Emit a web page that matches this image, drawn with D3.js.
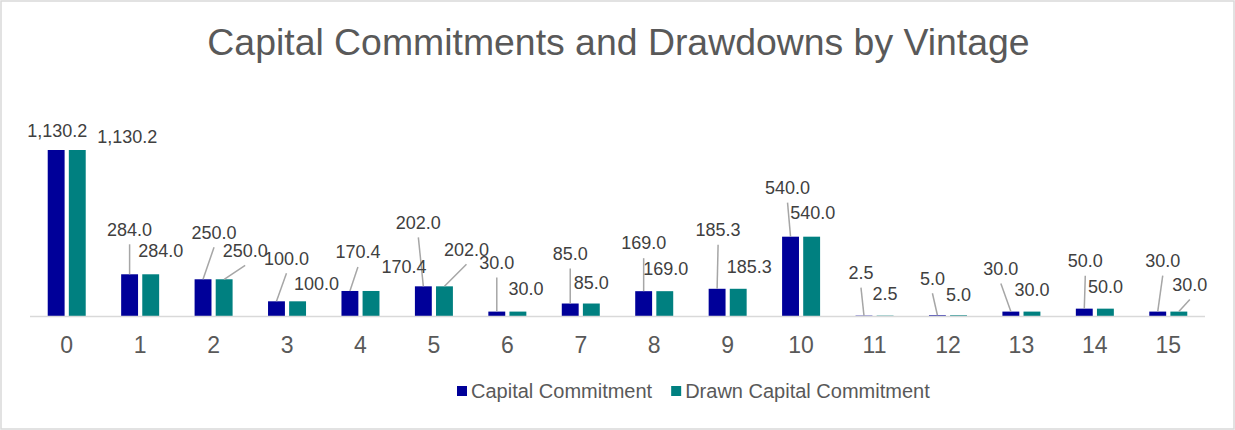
<!DOCTYPE html>
<html>
<head>
<meta charset="utf-8">
<script src="https://cdn.jsdelivr.net/npm/d3@7"></script>
<style>
  body { margin: 0; background: #fff; }
  svg text { font-family: "Liberation Sans", Arial, sans-serif; }
</style>
</head>
<body>
<div id="chart"></div>
<script>
// vintage categories and the two series
const vintages = ["0","1","2","3","4","5","6","7","8","9","10","11","12","13","14","15"];
const commitment = [1130.2, 284.0, 250.0, 100.0, 170.4, 202.0, 30.0, 85.0, 169.0, 185.3, 540.0, 2.5, 5.0, 30.0, 50.0, 30.0];
const drawn = [1130.2, 284.0, 250.0, 100.0, 170.4, 202.0, 30.0, 85.0, 169.0, 185.3, 540.0, 2.5, 5.0, 30.0, 50.0, 30.0];
const seriesNames = ["Capital Commitment", "Drawn Capital Commitment"];
const seriesColors = ["#000099", "#008080"];

// label placement (offset of label centre from bar top centre), as Excel left them
const commitLabelOffset = [[1,-19],[0,-45],[11,-47],[10,-43],[8,-39],[-5,-64],[0,-49],[0,-50],[0,-48],[1,-59],[-3,-49],[-3,-43],[-5,-37],[-10,-43],[1,-48],[5,-51]];
const drawnLabelOffset = [[50,-13],[10,-24],[21,-29],[19,-18],[33,-24],[22,-37],[8,-23],[0,-21],[1,-22],[11,-22],[1,-24],[0,-22],[0,-21],[0,-22],[0,-22],[11,-27]];

const W = 1235, H = 430;
const margin = {top: 150, right: 30, bottom: 114, left: 30};
const width = W - margin.left - margin.right,
      height = H - margin.top - margin.bottom;

const svg = d3.select("#chart").append("svg")
    .attr("width", W).attr("height", H);

// chart border
svg.append("rect")
    .attr("x", 1).attr("y", 1)
    .attr("width", W - 2).attr("height", H - 2)
    .attr("fill", "#fff").attr("stroke", "#d9d9d9").attr("stroke-width", 1.5);

svg.append("text")
    .attr("x", W / 2 + 1).attr("y", 55)
    .attr("text-anchor", "middle")
    .attr("font-size", 37.4)
    .attr("fill", "#595959")
    .text("Capital Commitments and Drawdowns by Vintage");

const g = svg.append("g")
    .attr("transform", "translate(" + margin.left + "," + margin.top + ")");

const x = d3.scaleBand().domain(vintages).range([0, width]);
const x1 = d3.scaleBand().domain([0, 1]).range([x.bandwidth() / 2 - 19, x.bandwidth() / 2 + 19]).paddingInner(0.2);
const y = d3.scaleLinear().domain([0, d3.max(commitment)]).range([height, 0]);

const series = [commitment, drawn];
const offsets = [commitLabelOffset, drawnLabelOffset];

series.forEach((vals, s) => {
    const rows = vals.map((v, i) => ({cat: vintages[i], v: v}));
    g.append("g").selectAll("rect").data(rows).enter().append("rect")
        .attr("x", d => x(d.cat) + x1(s))
        .attr("y", d => y(d.v))
        .attr("width", x1.bandwidth())
        .attr("height", d => height - y(d.v))
        .attr("fill", seriesColors[s]);
});

// axis line
g.append("line")
    .attr("x1", 0).attr("x2", width)
    .attr("y1", height + 0.5).attr("y2", height + 0.5)
    .attr("stroke", "#d9d9d9").attr("stroke-width", 1.5);

// tick labels
const xAxis = g.append("g")
    .attr("transform", "translate(0," + height + ")")
    .call(d3.axisBottom(x).tickSize(0).tickPadding(20.5));
xAxis.select(".domain").remove();
xAxis.selectAll("text")
    .attr("font-size", 23)
    .attr("fill", "#595959")
    .style("font-family", "'Liberation Sans', Arial, sans-serif");

// data labels with leader lines
series.forEach((vals, s) => {
    vals.forEach((v, i) => {
        const bx = x(vintages[i]) + x1(s) + x1.bandwidth() / 2,
              by = y(v);
        const lx = bx + offsets[s][i][0],
              ly = by + offsets[s][i][1];
        if (by - (ly + 8) > 18) {
            g.append("line")
                .attr("x1", lx).attr("y1", ly + 15)
                .attr("x2", bx).attr("y2", by)
                .attr("stroke", "#a6a6a6").attr("stroke-width", 1.5);
        }
        g.append("text")
            .attr("x", lx).attr("y", ly)
            .attr("dy", "0.35em")
            .attr("text-anchor", "middle")
            .attr("font-size", 18)
            .attr("fill", "#404040")
            .text(d3.format(",.1f")(v));
    });
});

// legend
const legend = svg.append("g").attr("transform", "translate(457,391)");
let lx = 0;
seriesNames.forEach((n, s) => {
    legend.append("rect")
        .attr("x", lx).attr("y", -5)
        .attr("width", 10).attr("height", 10)
        .attr("fill", seriesColors[s]);
    const t = legend.append("text")
        .attr("x", lx + 14).attr("y", 0)
        .attr("dy", "0.35em")
        .attr("font-size", 20)
        .attr("fill", "#595959")
        .text(n);
    lx += 14 + t.node().getComputedTextLength() + 19;
});
</script>
</body>
</html>
